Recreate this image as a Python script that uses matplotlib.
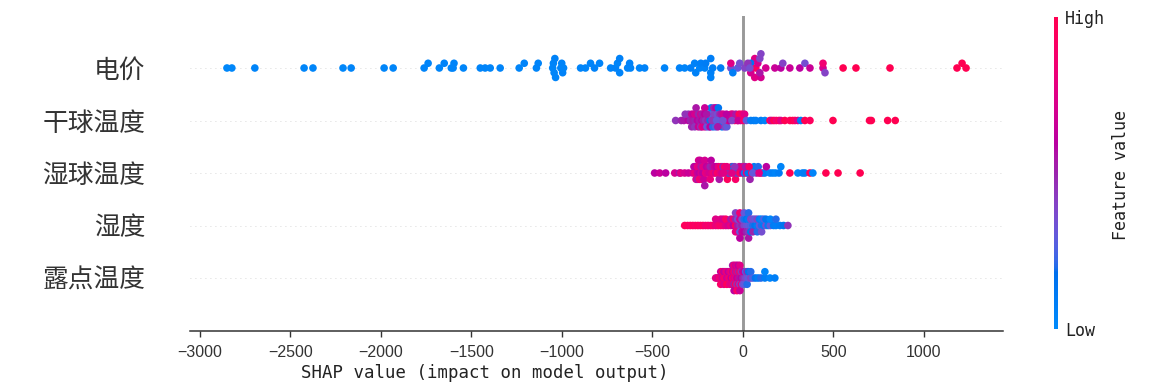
import numpy as np
import matplotlib
matplotlib.use("Agg")
import matplotlib.pyplot as plt
from matplotlib.colors import LinearSegmentedColormap, Normalize
from matplotlib.cm import ScalarMappable

plt.rcParams['font.family'] = ['Noto Sans CJK SC', 'DejaVu Sans']
plt.rcParams['axes.unicode_minus'] = True

# ---------------- data ----------------
feature_names = ["电价", "干球温度", "湿球温度", "湿度", "露点温度"]   # top -> bottom

price_shap = [-2849, -2822, -2695, -2423, -2374, -2208, -2163, -1981, -1931,
              -1760, -1738, -1676, -1649, -1610, -1600, -1595,
              -1543, -1450, -1423, -1395, -1340,
              -1235, -1207, -1140, -1130,
              -1050, -1046, -1042, -1038, -1034, -1005, -1000, -995, -990,
              -896, -869, -841, -819, -791,
              -730, -703, -692, -680, -680, -636, -625, -620, -570, -542,
              -432, -349, -321, -288, -266, -260, -238, -232, -210, -205,
              -177, -177, -177, -166, -122,
              -66, -28, -66, -17, 11, -55,
              66, 44, 72, 28, 66, 100, 44, 94, 39,
              83, 94, 127, 100,
              177, 210, 221, 260, 315, 343, 371,
              443, 443, 454,
              554, 625, 813,
              1183, 1211, 1233]
price_val = [.03, .03, .05, .04, .04, .03, .05, .04, .04,
             .05, .05, .04, .05, .04, .05, .05,
             .04, .05, .05, .04, .05,
             .04, .05, .04, .05,
             .04, .05, .04, .06, .05, .04, .05, .06, .04,
             .05, .04, .05, .06, .05,
             .05, .06, .04, .05, .07, .05, .06, .05, .04, .06,
             .05, .06, .05, .08, .06, .07, .05, .08, .06, .1,
             .07, .09, .06, .08, .1,
             .35, .3, .75, .35, .4, .1,
             .75, .15, .95, .45, .75, .7, .7, .55, .35,
             .7, .4, .7, .4,
             .65, .6, .4, .65, .6, .35, .65,
             .7, .85, .4,
             1.0, 1.0, 1.0,
             1.0, 1.0, 1.0]

drybulb_shap = [-371, -340, -325, -318, -300, -300, -290, -282, -282, -275, -270, -265, -265, -265,
                -258, -250, -245, -245, -240, -232, -232, -225, -225, -225, -218, -210, -210, -205,
                -198, -192, -192, -185, -180, -180, -180, -175, -168, -165, -160, -155, -155, -150,
                -148, -140, -135, -132, -128, -122, -120, -115, -108, -100, -95, -88, -80, -72,
                -65, -55, -45, -38, -30, -20, -12,
                -210, -200, -170, -145, -138, -110, -90, -60, -25, -5, 5,
                10, 20, 44, 60, 72, 100, 122, 150, 160, 172, 185, 200, 210, 232, 260, 275, 288,
                304, 320, 343, 371, 498, 700, 710, 800, 842]
drybulb_val = [.45, .5, .55, .45, .6, .45, .5, .65, .5, .55, .6, .5, .7, .45,
               .55, .6, .5, .65, .55, .7, .45, .6, .55, .75, .5, .6, .7, .45,
               .3, .5, .2, .4, .15, .35, .6, .1, .3, .2, .5, .1, .4, .25,
               .6, .35, .15, .5, .45, .2, .55, .1, .7, .4, .75, .3, .8, .6,
               .85, .7, .9, .55, .85, .95, .7,
               .65, .55, .45, .3, .55, .35, .6, .4, .65, .85, .9,
               .75, .3, .08, .1, .08, .1, .06, .95, .7, 1.0, .85, .95, .75, 1.0, .95, 1.0, .95,
               .75, .1, 1.0, .95, 1.0, 1.0, 1.0, 1.0, 1.0]

wetbulb_shap = [-487, -459, -426, -376, -350, -343, -321, -300,
                -277, -270, -265, -265, -258, -250, -250, -250, -244, -240, -240, -240, -235, -230,
                -230, -225, -220, -220, -215, -210, -210, -205, -200, -195, -190, -185, -180, -180,
                -175, -170, -165, -160, -155, -150, -145, -140, -135, -130, -125, -120, -115, -110,
                -100, -92, -85, -78, -70, -62, -55, -50, -40, -32, -25, -15, -8, 0, 10, 20, 30, 40,
                50, 62, 75, 85, 100, 110, 122,
                150, 165, 180, 200, 210, 260, 304, 330, 343, 371, 387, 459, 526, 648,
                -60, -20, 5, 15, 35, 55, 90, 130, -105, -88, -45]
wetbulb_val = [.6, .65, .6, .7, .55, .75, .7, .65,
               .7, .55, .8, .6, .75, .65, .8, .55, .7, .6, .75, .85, .65, .7,
               .55, .8, .6, .75, .65, .7, .55, .8, .6, .75, .65, .7, .5, .8,
               .6, .75, .55, .85, .65, .7, .6, .9, .75, .55, .8, .95, .7, .5,
               .9, .6, .95, .15, .5, .85, .1, .6, .9, .2, .5, .95, .3, .6, .1, .85, .15, .5,
               .9, .1, .55, .2, .95, .4, .1,
               .05, .08, .05, .1, .05, 1.0, .05, .08, .1, .95, .05, 1.0, 1.0, 1.0,
               .75, .7, .8, .55, .9, .3, .75, .6, .75, .8, .45]

humidity_shap = [-321, -305, -290, -276, -262, -248, -234, -220, -206, -192, -178, -165,
                 -150, -150, -136, -122, -122, -108, -108, -94, -94, -80,
                 -66, -66, -52, -52,
                 -40, -40, -40, -40, -28, -28, -28, -16, -16, -16, -16, -16, -4, -4, -4,
                 8, 8, 8, 8, 20, 20, 20, 32, 32, 32, 32, 32, 44, 44, 44, 56, 56, 56,
                 68, 68, 80, 80, 80, 92, 92, 104, 104, 104, 116, 116, 128, 128, 140,
                 152, 152, 170, 183, 183, 205, 225, 249]
humidity_val = [.95, .95, .9, .95, .9, .95, .9, .95, .85, .9, .85, .9,
                .8, .75, .85, .9, .75, .85, .7, .75, .9, .7,
                .8, .55, .6, .85,
                .95, .5, .75, .4, .55, .35, .8, .45, .7, .3, .85, .6, .5, .35, .65,
                .4, .2, .6, .3, .35, .15, .5, .3, .1, .45, .2, .55, .25, .4, .15, .2, .35, .5,
                .15, .3, .1, .4, .2, .3, .1, .2, .05, .35, .1, .25, .35, .15, .1,
                .3, .05, .1, .08, .2, .1, .15, .45]

dewpoint_shap = [-150, -143, -136, -129,
                 -122, -122, -122, -112, -112, -104, -104, -104, -96, -96, -88, -88, -88,
                 -80, -80, -72, -72, -72, -64, -64, -64, -56, -56, -56, -56,
                 -48, -48, -48, -48, -48, -40, -40, -40, -40, -32, -32, -32, -32, -32,
                 -24, -24, -24, -24, -16, -16, -16, -16, -16, -8, -8, -8, 0, 0, 0,
                 8, 8, 8, 16, 16, 24, 24, 24, 32, 32, 44, 44, 56, 70, 85, 100, 122, 122, 150, 177]
dewpoint_val = [.75, .8, .7, .85,
                .8, .65, .9, .7, .95, .85, .6, .75, .9, .7, .65, .85, .95,
                .75, .6, .9, .7, .8, .6, .85, .75, .95, .65, .8, .55,
                .7, .9, .5, .85, .6, .8, .55, .95, .65, .6, .85, .45, .75, .9,
                .7, .5, .8, .6, .55, .9, .4, .75, .65, .6, .45, .8, .5, .7, .35,
                .45, .6, .3, .4, .25, .35, .5, .2, .3, .15, .4, .2, .25, .15, .1, .2, .1, .05, .05, .08]

shap_rows = [price_shap, drybulb_shap, wetbulb_shap, humidity_shap, dewpoint_shap]
val_rows = [price_val, drybulb_val, wetbulb_val, humidity_val, dewpoint_val]


# ---------------- SHAP red_blue colormap (Lch interpolation) ----------------
def lch_to_rgb(l, c, h):
    a = c * np.cos(h)
    b = c * np.sin(h)
    fy = (l + 16.0) / 116.0
    fx = fy + a / 500.0
    fz = fy - b / 200.0
    d = 6.0 / 29.0

    def finv(t):
        return np.where(t > d, t ** 3, 3 * d * d * (t - 4.0 / 29.0))
    X = 0.95047 * finv(fx)
    Y = 1.00000 * finv(fy)
    Z = 1.08883 * finv(fz)
    M = np.array([[3.2406, -1.5372, -0.4986],
                  [-0.9689, 1.8758, 0.0415],
                  [0.0557, -0.2040, 1.0570]])
    rgb = M @ np.array([X, Y, Z])
    rgb = np.where(rgb <= 0.0031308, 12.92 * rgb, 1.055 * np.clip(rgb, 0, None) ** (1 / 2.4) - 0.055)
    return np.clip(rgb, 0, 1)


blue_lch = [54., 70., 4.6588]
l_mid = 40.
red_lch = [54., 90., 0.35470565 + 2 * np.pi]
nsteps = 100
l_vals = list(np.linspace(blue_lch[0], l_mid, nsteps // 2)) + list(np.linspace(l_mid, red_lch[0], nsteps // 2))
c_vals = np.linspace(blue_lch[1], red_lch[1], nsteps)
h_vals = np.linspace(blue_lch[2], red_lch[2], nsteps)
cols = [lch_to_rgb(l, c, h) for l, c, h in zip(l_vals, c_vals, h_vals)]
red_blue = LinearSegmentedColormap.from_list("red_blue", cols)


def swarm_offsets(shaps, row_height=0.4, nbins=100):
    shaps = np.asarray(shaps, float)
    quant = np.round(nbins * (shaps - shaps.min()) / (shaps.max() - shaps.min() + 1e-8))
    inds = np.lexsort((shaps, quant))
    layer = 0
    last_bin = -1
    ys = np.zeros(len(shaps))
    for ind in inds:
        if quant[ind] != last_bin:
            layer = 0
        ys[ind] = np.ceil(layer / 2) * ((layer % 2) * 2 - 1)
        layer += 1
        last_bin = quant[ind]
    ys *= 0.9 * (row_height / np.max(ys + 1))
    return ys


# ---------------- figure ----------------
W, H = 1150, 392
fig = plt.figure(figsize=(W / 100, H / 100), dpi=100)
ax = fig.add_axes([190 / W, (H - 330.5) / H, (1003 - 190) / W, 315 / H])

n = len(feature_names)
for i, (sh, vv) in enumerate(zip(shap_rows, val_rows)):
    pos = n - 1 - i
    ax.axhline(y=pos, color="#cccccc", lw=0.6, dashes=(1, 5), zorder=-1)
    ys = swarm_offsets(sh)
    ax.scatter(np.asarray(sh, float), pos + ys, c=vv, cmap=red_blue, vmin=0, vmax=1,
               s=30, linewidth=0, alpha=1, zorder=3)

ax.axvline(x=0, color="#999999", lw=2.1, zorder=-1)

ax.set_ylim(-1, n)
ax.set_yticks(range(n))
ax.set_yticklabels(feature_names[::-1], fontsize=18.5, color="#333333")
ax.tick_params('y', length=0, pad=32)
ax.set_xticks([-3000, -2500, -2000, -1500, -1000, -500, 0, 500, 1000])
ax.set_xticklabels(["\u22123000", "\u22122500", "\u22122000", "\u22121500", "\u22121000", "\u2212500",
                    "0", "500", "1000"], fontsize=11.5, family="Liberation Sans", color="#333333")
ax.tick_params('x', length=4.5, width=1.0, pad=6, color="#333333")
for s in ["top", "right", "left"]:
    ax.spines[s].set_visible(False)
ax.spines["bottom"].set_color("#333333")
ax.spines["bottom"].set_linewidth(1.1)
ax.set_xlabel("SHAP value (impact on model output)", fontsize=12.5, family="DejaVu Sans Mono",
              color="#222222")
ax.xaxis.set_label_coords((485 - 190) / (1003 - 190), -0.105)

# colorbar
cax = fig.add_axes([1054 / W, (H - 329) / H, 4 / W, 312 / H])
sm = ScalarMappable(norm=Normalize(0, 1), cmap=red_blue)
cb = fig.colorbar(sm, cax=cax, ticks=[0, 1])
cb.set_ticklabels(["Low", "High"])
cb.ax.tick_params(labelsize=12, length=0, pad=5)
for t in cb.ax.get_yticklabels():
    t.set_family("DejaVu Sans Mono")
    t.set_color("#222222")
cb.outline.set_visible(False)
fig.text(1121 / W, 1 - 175 / H, "Feature value", rotation=90, ha="center", va="center",
         fontsize=12, family="DejaVu Sans Mono", color="#222222")

fig.savefig("out.png", dpi=100)
